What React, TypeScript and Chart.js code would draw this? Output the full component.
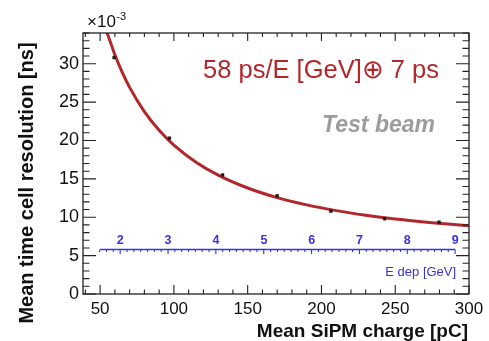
import React, { useEffect, useRef } from "react";
import { Chart, registerables } from "chart.js";

Chart.register(...registerables);

// ---- data ----
const pointCharge = [59.5, 97, 133, 170, 206.4, 242.8, 279.7];
const pointResolution = [30.8, 20.3, 15.5, 12.8, 10.8, 9.8, 9.35];

const fitCharge = [54.5, 55, 60, 65, 70, 80, 90, 100, 115, 130, 150, 170, 190, 210, 230, 250, 275, 300];
const fitResolution = [34.1, 33.88, 31.16, 28.88, 26.92, 23.76, 21.33, 19.4, 17.17, 15.49, 13.81, 12.56, 11.61, 10.86, 10.26, 9.77, 9.29, 8.9];

const xTicks = [50, 100, 150, 200, 250, 300];
const yTicks = [0, 5, 10, 15, 20, 25, 30];

const eDepTicks = [2, 3, 4, 5, 6, 7, 8, 9];
const eDepCharge = [63.6, 96.0, 128.5, 161.0, 193.4, 225.8, 258.2, 290.6];
const eDepAxisStartCharge = 50;
const eDepAxisLevel = 5.8;

const xMin = 38.4;
const xMax = 300;
const yMin = 0;
const yMax = 34;

const fitLabel = "58 ps/E [GeV]\u2295 7 ps";
const beamLabel = "Test beam";
const xTitle = "Mean SiPM charge [pC]";
const yTitle = "Mean time cell resolution [ns]";
const eDepTitle = "E dep [GeV]";

const FONT = "'Liberation Sans', Arial, Helvetica, sans-serif";
const RED = "#b3262b";
const BLUE = "#3434dc";

const decorPlugin = {
  id: "rootDecor",
  afterDraw(chart: any) {
    const { ctx, chartArea } = chart;
    const xs = chart.scales.x;
    const ys = chart.scales.y;
    const { left, right, top, bottom } = chartArea;
    ctx.save();

    // frame
    ctx.strokeStyle = "#222";
    ctx.lineWidth = 1.3;
    ctx.strokeRect(left, top, right - left, bottom - top);

    // x ticks (inside, bottom and top)
    ctx.lineWidth = 1.1;
    ctx.beginPath();
    for (let v = 40; v <= xMax + 0.001; v += 10) {
      const px = xs.getPixelForValue(v);
      if (px < left - 0.5 || px > right + 0.5) continue;
      const major = Math.abs(v % 50) < 0.001;
      const lb = major ? 9 : 4.5;
      const lt = major ? 8 : 4;
      ctx.moveTo(px, bottom);
      ctx.lineTo(px, bottom - lb);
      ctx.moveTo(px, top);
      ctx.lineTo(px, top + lt);
    }
    // y ticks (inside, left and right)
    for (let v = yMin; v <= yMax + 0.001; v += 1) {
      const py = ys.getPixelForValue(v);
      const major = v % 5 === 0;
      const ll = major ? 13 : 6.5;
      ctx.moveTo(left, py);
      ctx.lineTo(left + ll, py);
      ctx.moveTo(right, py);
      ctx.lineTo(right - ll, py);
    }
    ctx.stroke();

    // x10^-3
    ctx.fillStyle = "#111";
    ctx.textAlign = "left";
    ctx.textBaseline = "alphabetic";
    ctx.font = `17px ${FONT}`;
    ctx.fillText("\u00d710", 87, 27);
    const w = ctx.measureText("\u00d710").width;
    ctx.font = `11px ${FONT}`;
    ctx.fillText("-3", 87 + w + 0.5, 20);

    // y title
    ctx.save();
    ctx.translate(33, 183);
    ctx.rotate(-Math.PI / 2);
    ctx.font = `bold 20px ${FONT}`;
    ctx.textAlign = "center";
    ctx.textBaseline = "alphabetic";
    ctx.fillStyle = "#111";
    ctx.fillText(yTitle, 0, 0);
    ctx.restore();

    // x title
    ctx.font = `bold 19px ${FONT}`;
    ctx.textAlign = "right";
    ctx.fillStyle = "#111";
    ctx.fillText(xTitle, right - 1, 337);

    // fit label
    ctx.font = `25.5px ${FONT}`;
    ctx.textAlign = "left";
    ctx.fillStyle = RED;
    ctx.fillText(fitLabel, 203, 78);

    // Test beam
    ctx.font = `italic bold 23px ${FONT}`;
    ctx.textAlign = "right";
    ctx.fillStyle = "#9c9c9c";
    ctx.fillText(beamLabel, 435, 132);

    // E dep secondary axis
    const ey = ys.getPixelForValue(eDepAxisLevel);
    const n = eDepTicks.length;
    const slope = (eDepCharge[n - 1] - eDepCharge[0]) / (eDepTicks[n - 1] - eDepTicks[0]);
    const chargeAt = (e: number) => eDepCharge[0] + (e - eDepTicks[0]) * slope;
    const x0 = xs.getPixelForValue(eDepAxisStartCharge);
    const x1 = xs.getPixelForValue(eDepCharge[n - 1]);
    ctx.strokeStyle = BLUE;
    ctx.lineWidth = 1.5;
    ctx.beginPath();
    ctx.moveTo(x0, ey);
    ctx.lineTo(x1, ey);
    ctx.stroke();
    ctx.lineWidth = 1.1;
    ctx.beginPath();
    const sub = 7;
    for (let k = -sub * 2; k <= (n - 1) * sub; k++) {
      const e = eDepTicks[0] + k / sub;
      const px = xs.getPixelForValue(chargeAt(e));
      if (px < x0 - 0.5 || px > x1 + 0.5) continue;
      const major = k % sub === 0;
      ctx.moveTo(px, ey);
      ctx.lineTo(px, ey + (major ? 4.5 : 2.5));
    }
    ctx.stroke();
    ctx.fillStyle = BLUE;
    ctx.font = `bold 12.5px ${FONT}`;
    ctx.textAlign = "center";
    eDepTicks.forEach((t, i) => {
      ctx.fillText(String(t), xs.getPixelForValue(eDepCharge[i]), ey - 5.5);
    });
    ctx.font = `13px ${FONT}`;
    ctx.textAlign = "right";
    ctx.fillText(eDepTitle, x1 + 1, 276);

    ctx.restore();
  },
};

export default function App() {
  const ref = useRef<HTMLCanvasElement | null>(null);

  useEffect(() => {
    document.body.style.margin = "0";
    const canvas = ref.current;
    if (!canvas) return;
    const chart = new Chart(canvas, {
      type: "scatter",
      data: {
        datasets: [
          {
            type: "line",
            label: "fit",
            data: fitCharge.map((x, i) => ({ x, y: fitResolution[i] })),
            borderColor: RED,
            borderWidth: 3,
            pointRadius: 0,
            fill: false,
            cubicInterpolationMode: "monotone",
            order: 2,
          } as any,
          {
            label: "data",
            data: pointCharge.map((x, i) => ({ x, y: pointResolution[i] })),
            pointStyle: "rect",
            pointRadius: 2,
            backgroundColor: "#1a1a1a",
            borderColor: "#1a1a1a",
            borderWidth: 0.5,
            order: 1,
          },
        ],
      },
      options: {
        responsive: false,
        animation: false,
        events: [],
        layout: { padding: { top: 33, right: 20, left: 0, bottom: 0 } },
        plugins: { legend: { display: false }, tooltip: { enabled: false } },
        scales: {
          x: {
            type: "linear",
            min: xMin,
            max: xMax,
            afterFit: (s: any) => {
              s.height = 47;
            },
            afterBuildTicks: (s: any) => {
              s.ticks = xTicks.map((v) => ({ value: v }));
            },
            grid: { display: false, drawTicks: false },
            border: { display: false },
            ticks: {
              padding: 5,
              color: "#111",
              font: { family: FONT, size: 17 },
              maxRotation: 0,
              autoSkip: false,
            },
            title: { display: false },
          },
          y: {
            type: "linear",
            min: yMin,
            max: yMax,
            afterFit: (s: any) => {
              s.width = 83;
            },
            afterBuildTicks: (s: any) => {
              s.ticks = yTicks.map((v) => ({ value: v }));
            },
            grid: { display: false, drawTicks: false },
            border: { display: false },
            ticks: {
              padding: 4,
              color: "#111",
              font: { family: FONT, size: 18 },
              autoSkip: false,
            },
            title: { display: false },
          },
        },
      },
      plugins: [decorPlugin],
    } as any);
    return () => chart.destroy();
  }, []);

  return (
    <div style={{ position: "absolute", left: 0, top: 0, width: 489, height: 341, background: "#fff" }}>
      <canvas ref={ref} width={489} height={341} style={{ width: 489, height: 341, display: "block" }} />
    </div>
  );
}
